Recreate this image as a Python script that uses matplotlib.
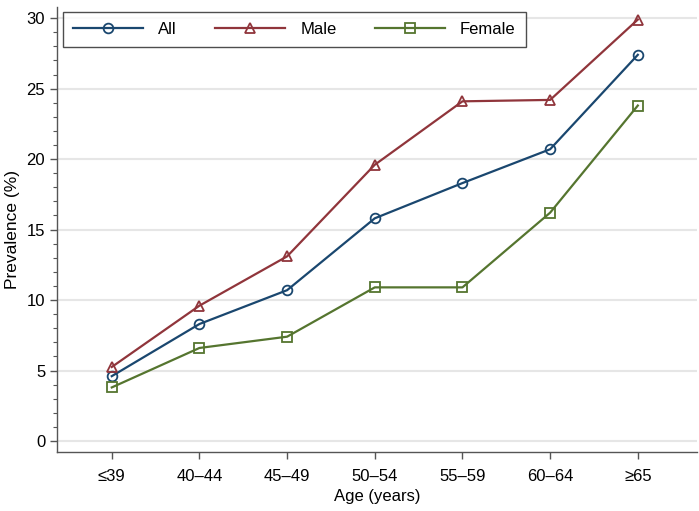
import matplotlib.pyplot as plt
from matplotlib.ticker import MultipleLocator

plt.rcParams['font.family'] = ['Liberation Sans', 'DejaVu Sans']

# Dados
faixas = ['≤39', '40–44', '45–49', '50–54', '55–59', '60–64', '≥65']
todos = [4.6, 8.3, 10.7, 15.8, 18.3, 20.7, 27.4]
homens = [5.25, 9.6, 13.1, 19.6, 24.1, 24.2, 29.9]
mulheres = [3.8, 6.6, 7.4, 10.9, 10.9, 16.2, 23.8]

fig = plt.figure(figsize=(6.99, 5.11), dpi=100)
ax = fig.add_axes([0.0815, 0.1155, 0.915, 0.871])

x = list(range(len(faixas)))
estilo = dict(markerfacecolor='none', markersize=7, markeredgewidth=1.3, linewidth=1.6)
ax.plot(x, todos, marker='o', color='#1a476f', label='All', **estilo)
ax.plot(x, homens, marker='^', color='#90353b', label='Male', **estilo)
ax.plot(x, mulheres, marker='s', color='#55752f', label='Female', **estilo)

ax.set_xlim(-0.625, 6.67)
ax.set_ylim(-0.78, 30.8)
ax.set_xticks(x)
ax.set_xticklabels(faixas)
ax.yaxis.set_major_locator(MultipleLocator(5))
ax.yaxis.set_minor_locator(MultipleLocator(1))
ax.grid(axis='y', color='#e6e6e6', linewidth=1.5)
ax.set_axisbelow(True)

for lado in ['top', 'right']:
    ax.spines[lado].set_visible(False)
for lado in ['left', 'bottom']:
    ax.spines[lado].set_color('#555555')
    ax.spines[lado].set_linewidth(1.0)

ax.tick_params(axis='both', which='major', labelsize=12, color='#555555', length=5, width=1.0)
ax.tick_params(axis='y', which='minor', color='#555555', length=3, width=0.8)
ax.tick_params(axis='x', pad=7)

ax.set_xlabel('Age (years)', fontsize=12, labelpad=4)
ax.set_ylabel('Prevalence (%)', fontsize=12.5, labelpad=5)

leg = ax.legend(loc='upper left', ncol=3, fontsize=12, handlelength=4.2,
                handletextpad=0.9, columnspacing=2.3, frameon=True,
                fancybox=False, borderpad=0.6, bbox_to_anchor=(-0.003, 1.007))
leg.get_frame().set_edgecolor('#222222')
leg.get_frame().set_linewidth(1.0)

plt.savefig('out.png', dpi=100)
plt.close()
